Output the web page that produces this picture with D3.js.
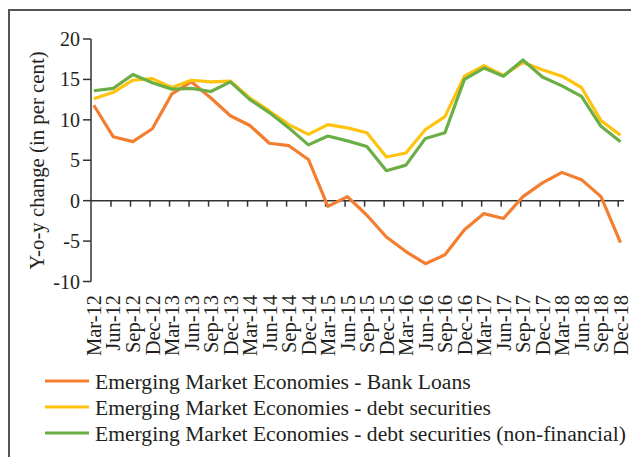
<!DOCTYPE html>
<html>
<head>
<meta charset="utf-8">
<script src="https://cdn.jsdelivr.net/npm/d3@7"></script>
<style>
  body { margin: 0; background: #fff; }
  text { font-family: "Liberation Serif", "DejaVu Serif", serif; fill: #231f20; }
</style>
</head>
<body>
<div id="chart"></div>
<script>
const quarters = ["Mar-12","Jun-12","Sep-12","Dec-12","Mar-13","Jun-13","Sep-13","Dec-13",
  "Mar-14","Jun-14","Sep-14","Dec-14","Mar-15","Jun-15","Sep-15","Dec-15",
  "Mar-16","Jun-16","Sep-16","Dec-16","Mar-17","Jun-17","Sep-17","Dec-17",
  "Mar-18","Jun-18","Sep-18","Dec-18"];

const bankLoans = [11.8, 7.9, 7.3, 8.9, 13.2, 14.7, 12.7, 10.5, 9.3, 7.1, 6.8, 5.1,
  -0.7, 0.5, -1.8, -4.5, -6.3, -7.8, -6.7, -3.6, -1.6, -2.2, 0.5, 2.2, 3.5, 2.6, 0.5, -5.2];
const debtSec = [12.6, 13.4, 14.9, 15.1, 14.0, 14.9, 14.7, 14.8, 12.7, 11.1, 9.4, 8.2,
  9.4, 9.0, 8.4, 5.4, 5.9, 8.8, 10.4, 15.4, 16.7, 15.5, 17.1, 16.2, 15.4, 14.0, 9.9, 8.1];
const debtSecNF = [13.6, 13.9, 15.6, 14.6, 13.8, 13.9, 13.5, 14.7, 12.5, 10.9, 9.0, 6.9,
  8.0, 7.4, 6.7, 3.7, 4.4, 7.7, 8.4, 15.0, 16.4, 15.4, 17.4, 15.3, 14.2, 12.9, 9.2, 7.3];

const seriesNames = ["Emerging Market Economies - Bank Loans",
  "Emerging Market Economies - debt securities",
  "Emerging Market Economies - debt securities (non-financial)"];
const yTicks = [-10, -5, 0, 5, 10, 15, 20];

const series = [
  { name: seriesNames[0], values: bankLoans, color: "#F47E30" },
  { name: seriesNames[1], values: debtSec, color: "#FFC20E" },
  { name: seriesNames[2], values: debtSecNF, color: "#6BAE45" }
];

const width = 631, height = 457;
const svg = d3.select("#chart").append("svg")
  .attr("width", width).attr("height", height);

// outer frame (top + left)
svg.append("path")
  .attr("d", "M9,457V10H631")
  .attr("fill", "none").attr("stroke", "#555").attr("stroke-width", 2);

const x = d3.scalePoint().domain(quarters).range([93.8, 620.5]);
const y = d3.scaleLinear().domain([-10, 20]).range([281.5, 39]);

// y axis
const yAxis = svg.append("g").attr("transform", "translate(91,0)");
yAxis.append("line").attr("y1", y(20)).attr("y2", y(-10))
  .attr("stroke", "#333").attr("stroke-width", 1.5);
yAxis.selectAll(".yt").data(yTicks).enter().append("line")
  .attr("x1", -8).attr("x2", 0)
  .attr("y1", d => y(d)).attr("y2", d => y(d))
  .attr("stroke", "#333").attr("stroke-width", 1.5);
yAxis.selectAll(".yl").data(yTicks).enter().append("text")
  .attr("x", -11).attr("y", d => y(d)).attr("dy", "0.35em")
  .attr("text-anchor", "end").style("font-size", "20px")
  .text(d => d);

svg.append("text")
  .attr("transform", `translate(44,${(50 + 271) / 2}) rotate(-90)`)
  .attr("text-anchor", "middle").style("font-size", "20.8px")
  .text("Y-o-y change (in per cent)");

// x axis at zero
svg.append("line").attr("x1", 91).attr("x2", 624)
  .attr("y1", y(0)).attr("y2", y(0))
  .attr("stroke", "#333").attr("stroke-width", 1.5);
svg.selectAll(".xt").data(quarters.slice(1)).enter().append("line")
  .attr("x1", d => x(d) - 2.3).attr("x2", d => x(d) - 2.3)
  .attr("y1", y(0)).attr("y2", y(0) + 6)
  .attr("stroke", "#333").attr("stroke-width", 1.5);
svg.selectAll(".xl").data(quarters).enter().append("text")
  .attr("transform", d => `translate(${x(d)},295) rotate(-90)`)
  .attr("dy", "0.35em").attr("text-anchor", "end")
  .style("font-size", "20.5px")
  .text(d => d);

// lines
const line = d3.line().x((d, i) => x(quarters[i])).y(d => y(d));
svg.selectAll(".series").data(series).enter().append("path")
  .attr("d", d => line(d.values))
  .attr("fill", "none").attr("stroke", d => d.color)
  .attr("stroke-width", 3.2).attr("stroke-linejoin", "round");

// legend
const legend = svg.selectAll(".leg").data(series).enter().append("g")
  .attr("transform", (d, i) => `translate(45,${381 + i * 26})`);
legend.append("line").attr("x1", 0).attr("x2", 44)
  .attr("stroke", d => d.color).attr("stroke-width", 3.2);
legend.append("text").attr("x", 50).attr("dy", "0.35em")
  .style("font-size", "21.6px")
  .text(d => d.name);
</script>
</body>
</html>
